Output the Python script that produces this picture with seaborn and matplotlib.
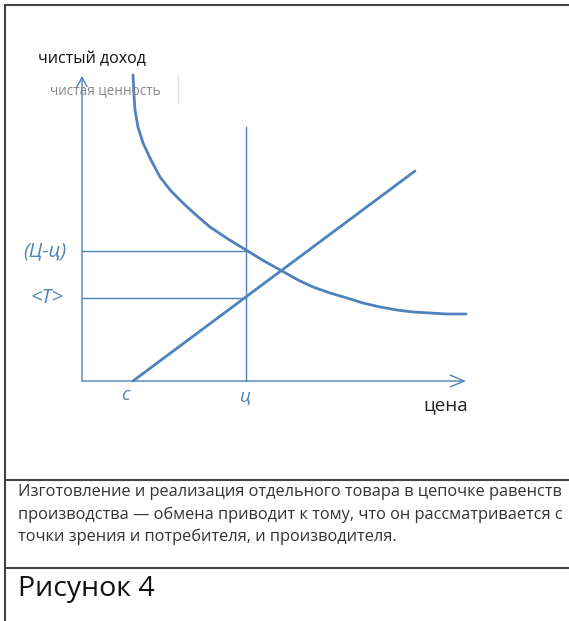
import matplotlib
matplotlib.use("Agg")
import matplotlib.pyplot as plt
import seaborn as sns
import pandas as pd
from matplotlib.lines import Line2D

# curve "чистая ценность"
curve_x = [5.1, 5.2, 5.3, 5.6, 6.1, 6.9, 7.8, 8.9, 10.1, 11.4, 12.8, 14.6, 16.4,
           18.2, 20.0, 21.6, 23.1, 24.8, 26.5, 28.1, 29.8, 31.5, 33.1, 34.8, 36.5, 38.4]
curve_y = [30.6, 28.6, 27.1, 25.4, 23.8, 22.1, 20.4, 19.0, 17.8, 16.6, 15.4, 14.2, 13.1,
           12.0, 11.0, 10.1, 9.4, 8.8, 8.3, 7.8, 7.4, 7.1, 6.9, 6.8, 6.7, 6.7]

# straight line from c
line_x = [5.1, 33.3]
line_y = [0.0, 21.0]

price_mark = 16.4      # ц
level_high = 13.0      # (Ц-ц)
level_low = 8.3        # <T>
x_end = 38.4
y_end = 30.5

caption_lines = [
    "Изготовление и реализация отдельного товара в цепочке равенств",
    "производства — обмена приводит к тому, что он рассматривается с",
    "точки зрения и потребителя, и производителя.",
]
figure_title = "Рисунок 4"

BLUE = "#4F81BD"
W, H = 569, 621

sns.set_style("white")
plt.rcParams["font.family"] = ["Open Sans", "DejaVu Sans"]

fig = plt.figure(figsize=(W / 100, H / 100), dpi=100)


def px(x, y):
    return x / W, 1 - y / H


ax = fig.add_axes([82 / W, (H - 381) / H, 400 / W, 330 / H])
ax.set_xlim(0, 40)
ax.set_ylim(0, 33)
ax.axis("off")

df_curve = pd.DataFrame({"x": curve_x, "y": curve_y})
df_line = pd.DataFrame({"x": line_x, "y": line_y})
sns.lineplot(data=df_curve, x="x", y="y", ax=ax, color=BLUE, lw=2.0, sort=False, clip_on=False)
sns.lineplot(data=df_line, x="x", y="y", ax=ax, color=BLUE, lw=2.0, clip_on=False)

# helper lines
ax.plot([price_mark, price_mark], [0, 25.4], color=BLUE, lw=1.0, clip_on=False)
ax.plot([0, price_mark], [level_high, level_high], color=BLUE, lw=1.0, clip_on=False)
ax.plot([0, price_mark], [level_low, level_low], color=BLUE, lw=1.0, clip_on=False)

# axes with arrows
ax.annotate("", xy=(x_end, 0), xytext=(0, 0),
            arrowprops=dict(arrowstyle="->,head_length=1.0,head_width=0.42",
                            color=BLUE, lw=1.0, shrinkA=0, shrinkB=0),
            annotation_clip=False)
ax.annotate("", xy=(0, y_end), xytext=(0, 0),
            arrowprops=dict(arrowstyle="->,head_length=0.65,head_width=0.36",
                            color=BLUE, lw=1.0, shrinkA=0, shrinkB=0),
            annotation_clip=False)

# blue labels
ax.text(-3.75, level_high, "(Ц-ц)", color=BLUE, style="italic", fontsize=14.5,
        ha="center", va="center", clip_on=False)
ax.text(-3.5, level_low, "<T>", color=BLUE, style="italic", fontsize=14.5,
        ha="center", va="center", clip_on=False)
ax.text(4.3, -1.4, "с", color=BLUE, style="italic", fontsize=13.5,
        ha="center", va="center", clip_on=False)
ax.text(price_mark, -1.6, "ц", color=BLUE, style="italic", fontsize=13.5,
        ha="center", va="center", clip_on=False)

# axis titles
fig.text(*px(446, 405), "цена", fontsize=13.5, color="#222", ha="center", va="center")
fig.text(*px(38, 59), "чистый доход", fontsize=11.5, color="#111", ha="left", va="center")
fig.text(*px(50, 91), "чистая ценность", fontsize=9.8, color="#888", ha="left", va="center")
fig.add_artist(Line2D([178 / W, 178 / W], [1 - 75 / H, 1 - 103 / H], color="#dddddd", lw=1.0))

# frame
frame_color = "#444444"
fig.add_artist(Line2D([5 / W, 5 / W], [1 - 5 / H, 0], color=frame_color, lw=1.5))
for yy in [5, 480, 568]:
    fig.add_artist(Line2D([5 / W, 1], [1 - yy / H, 1 - yy / H], color=frame_color, lw=1.5))

# caption
for i, line in enumerate(caption_lines):
    fig.text(*px(18, 492 + i * 22.5), line, fontsize=11.8, color="#333", ha="left", va="center")
fig.text(*px(18, 589), figure_title, fontsize=20.5, color="#111", ha="left", va="center")

fig.savefig("out.png", dpi=100)
